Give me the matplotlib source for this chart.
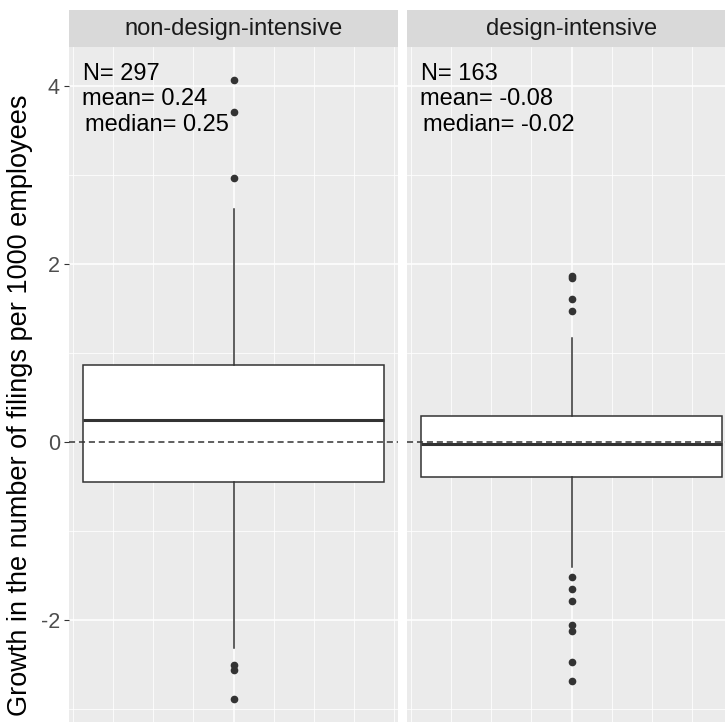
import matplotlib.pyplot as plt
from matplotlib.ticker import MultipleLocator

plt.rcParams['font.family'] = ['Liberation Sans', 'DejaVu Sans']

# valores
paneles = ['non-design-intensive', 'design-intensive']
n_obs = [297, 163]
medias = [0.24, -0.08]
medianas = [0.25, -0.02]
q1 = [-0.45, -0.39]
q3 = [0.86, 0.29]
bigote_inf = [-2.31, -1.40]
bigote_sup = [2.62, 1.17]
atipicos = [
    [4.07, 3.71, 2.97, -2.50, -2.56, -2.89],
    [1.87, 1.84, 1.61, 1.47, -1.52, -1.65, -1.79, -2.06, -2.12, -2.47, -2.69],
]
y_ticks = [-2, 0, 2, 4]

W, H = 725, 722
fig = plt.figure(figsize=(W / 100, H / 100), dpi=100)

y_top, y_bottom = 4.438, -3.146
ancho = 329 / W
izquierdas = [69 / W, 407 / W]
alto = (H - 47) / H

gris_panel = '#EBEBEB'
gris_linea = '#333333'

for i, nombre in enumerate(paneles):
    ax = fig.add_axes([izquierdas[i], 0, ancho, alto])
    ax.set_facecolor(gris_panel)
    for s in ax.spines.values():
        s.set_visible(False)
    ax.set_xlim(-0.411, 0.411)
    ax.set_ylim(y_bottom, y_top)
    ax.xaxis.set_major_locator(MultipleLocator(0.2))
    ax.xaxis.set_minor_locator(MultipleLocator(0.1))
    ax.set_yticks(y_ticks)
    ax.yaxis.set_minor_locator(MultipleLocator(1))
    ax.grid(which='major', color='white', linewidth=1.1)
    ax.grid(which='minor', color='white', linewidth=0.55)
    ax.set_axisbelow(True)
    ax.tick_params(axis='x', which='both', length=0, labelbottom=False)
    ax.tick_params(axis='y', which='minor', length=0)
    if i == 0:
        ax.tick_params(axis='y', which='major', length=3.5, width=0.8,
                       color=gris_linea, labelsize=15.5, labelcolor='#4D4D4D', pad=3)
        ax.set_yticklabels([str(v) for v in y_ticks])
        ax.set_ylabel('Growth in the number of filings per 1000 employees',
                      fontsize=19.5, color='black')
        ax.yaxis.set_label_coords(-0.108, 0.47)
    else:
        ax.tick_params(axis='y', which='major', length=0, labelleft=False)

    stats = [{
        'med': medianas[i], 'q1': q1[i], 'q3': q3[i],
        'whislo': bigote_inf[i], 'whishi': bigote_sup[i],
        'fliers': atipicos[i],
    }]
    ax.bxp(stats, positions=[0], widths=0.75, patch_artist=True, showcaps=False,
           boxprops=dict(facecolor='white', edgecolor=gris_linea, linewidth=1.1),
           medianprops=dict(color=gris_linea, linewidth=2.2),
           whiskerprops=dict(color=gris_linea, linewidth=1.1),
           flierprops=dict(marker='o', markerfacecolor=gris_linea,
                           markeredgecolor=gris_linea, markersize=4.5))
    ax.axhline(0, color=gris_linea, linestyle=(0, (4, 2.5)), linewidth=1.1, zorder=5)

    # anotaciones
    x0 = -0.376
    ax.text(x0, 4.13, f'N= {n_obs[i]}', fontsize=17, va='center', ha='left')
    ax.text(x0 - 0.003, 3.85, f'mean= {medias[i]:.2f}', fontsize=17, va='center', ha='left')
    ax.text(x0 + 0.006, 3.56, f'median= {medianas[i]:.2f}', fontsize=17, va='center', ha='left')

    # tira del facet
    tira = fig.add_axes([izquierdas[i], 1 - 47 / H, ancho, 37 / H])
    tira.set_facecolor('#D9D9D9')
    tira.set_xticks([])
    tira.set_yticks([])
    for s in tira.spines.values():
        s.set_visible(False)
    tira.text(0.5, 0.5, nombre, fontsize=17, color='#1A1A1A',
              ha='center', va='center', transform=tira.transAxes)

fig.savefig('out.png', dpi=100)
plt.close(fig)
